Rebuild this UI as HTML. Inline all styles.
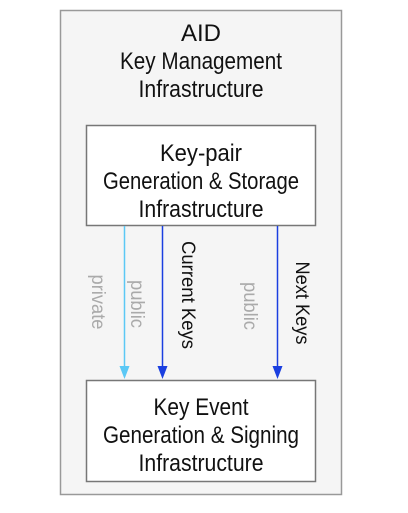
<!DOCTYPE html>
<html><head><style>body{margin:0;background:#fff}</style></head><body>
<svg width="408" height="508" xmlns="http://www.w3.org/2000/svg" font-family="Liberation Sans, sans-serif">
<rect x="60.5" y="10.5" width="281" height="484" fill="#f5f5f5" stroke="#999" stroke-width="1.5"/>
<g font-size="24" text-anchor="middle" fill="#111">
<text x="201" y="41" textLength="40" lengthAdjust="spacingAndGlyphs">AID</text>
<text x="201" y="69" textLength="162" lengthAdjust="spacingAndGlyphs">Key Management</text>
<text x="201" y="97" textLength="125" lengthAdjust="spacingAndGlyphs">Infrastructure</text>
</g>
<rect x="86.5" y="125.5" width="229" height="100" fill="#fff" stroke="#777" stroke-width="1.5"/>
<g font-size="24" text-anchor="middle" fill="#111">
<text x="201" y="161" textLength="82" lengthAdjust="spacingAndGlyphs">Key-pair</text>
<text x="201" y="189" textLength="196" lengthAdjust="spacingAndGlyphs">Generation &amp; Storage</text>
<text x="201" y="217" textLength="125" lengthAdjust="spacingAndGlyphs">Infrastructure</text>
</g>
<rect x="86.5" y="380.5" width="229" height="101" fill="#fff" stroke="#777" stroke-width="1.5"/>
<g font-size="24" text-anchor="middle" fill="#111">
<text x="201" y="415" textLength="95" lengthAdjust="spacingAndGlyphs">Key Event</text>
<text x="201" y="443" textLength="196" lengthAdjust="spacingAndGlyphs">Generation &amp; Signing</text>
<text x="201" y="471" textLength="125" lengthAdjust="spacingAndGlyphs">Infrastructure</text>
</g>
<line x1="124.5" y1="226" x2="124.5" y2="368" stroke="#5bc8f5" stroke-width="1.5"/>
<polygon points="119.5,366 129.5,366 124.5,379" fill="#5bc8f5"/>
<line x1="162.5" y1="226" x2="162.5" y2="368" stroke="#1a3fe0" stroke-width="1.5"/>
<polygon points="157.5,366 167.5,366 162.5,379" fill="#1a3fe0"/>
<line x1="277.5" y1="226" x2="277.5" y2="368" stroke="#1a3fe0" stroke-width="1.5"/>
<polygon points="272.5,366 282.5,366 277.5,379" fill="#1a3fe0"/>
<g font-size="19" text-anchor="middle">
<text transform="translate(92,302) rotate(90)" fill="#aaa" textLength="55" lengthAdjust="spacingAndGlyphs">private</text>
<text transform="translate(131,304) rotate(90)" fill="#aaa" textLength="48" lengthAdjust="spacingAndGlyphs">public</text>
<text transform="translate(182,295) rotate(90)" fill="#111" textLength="108" lengthAdjust="spacingAndGlyphs">Current Keys</text>
<text transform="translate(244,306) rotate(90)" fill="#aaa" textLength="48" lengthAdjust="spacingAndGlyphs">public</text>
<text transform="translate(296,303) rotate(90)" fill="#111" textLength="83" lengthAdjust="spacingAndGlyphs">Next Keys</text>
</g>
</svg>
</body></html>
